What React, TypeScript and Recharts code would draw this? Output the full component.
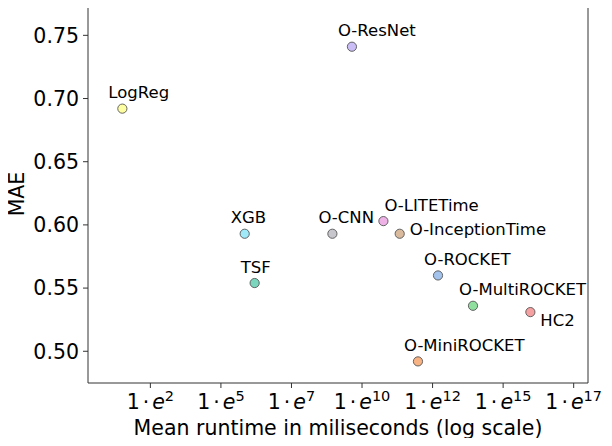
import { ScatterChart, Scatter, XAxis, YAxis, ReferenceLine } from 'recharts';

// runtime position is in axis-tick units (tick i sits at i + 1)
const methods = ['LogReg', 'O-ResNet', 'XGB', 'TSF', 'O-CNN', 'O-LITETime', 'O-InceptionTime', 'O-ROCKET', 'O-MultiROCKET', 'HC2', 'O-MiniROCKET'];
const runtimePos = [0.603, 3.857, 2.337, 2.478, 3.58, 4.303, 4.534, 5.077, 5.573, 6.386, 4.793];
const mae = [0.692, 0.741, 0.593, 0.554, 0.593, 0.603, 0.593, 0.56, 0.536, 0.531, 0.492];

const xTicks = [1, 2, 3, 4, 5, 6, 7];
const xTickExponents = ['2', '5', '7', '10', '12', '15', '17'];
const yTicks = [0.5, 0.55, 0.6, 0.65, 0.7, 0.75];

const colors: Record<string, string> = {
  LogReg: '#fdfda2',
  'O-ResNet': '#cbbdf6',
  XGB: '#a0e9f8',
  TSF: '#7ad7bd',
  'O-CNN': '#c6c6cc',
  'O-LITETime': '#efb2e6',
  'O-InceptionTime': '#d9ba9c',
  'O-ROCKET': '#a3c3ec',
  'O-MultiROCKET': '#8fdf9f',
  HC2: '#f6a1a1',
  'O-MiniROCKET': '#f7b384',
};

// label offset from the marker centre: [dx, baseline dy]
const labelShift: Record<string, [number, number]> = {
  'O-LITETime': [1, -10],
  'O-InceptionTime': [10, 1],
  HC2: [10, 14],
};

const xDomain = [0.116, 7.203];
const yDomain = [0.4749, 0.7748];
const font = 'DejaVu Sans, sans-serif';

const data = methods.map((name, i) => ({ name, x: runtimePos[i], y: mae[i] }));

function Marker(props: any) {
  const { cx, cy, payload } = props;
  const [dx, dy] = labelShift[payload.name] ?? [-14, -10.5];
  return (
    <g>
      <circle cx={cx} cy={cy} r={4.6} fill={colors[payload.name]} stroke="#555" strokeWidth={0.9} />
      <text x={cx + dx} y={cy + dy} fontSize={16.5} fontFamily={font} fill="#000">
        {payload.name}
      </text>
    </g>
  );
}

function XTick(props: any) {
  const { x, y, index } = props;
  return (
    <text x={x} y={y + 19} textAnchor="middle" fontSize={20.5} fontFamily={font} fill="#000">
      <tspan>1</tspan>
      <tspan dx={3}>·</tspan>
      <tspan dx={3} fontStyle="italic">e</tspan>
      <tspan fontSize={14.5} dy={-8.5}>{xTickExponents[index]}</tspan>
    </text>
  );
}

export default function App() {
  return (
    <div style={{ margin: -8 }}>
      <ScatterChart width={612} height={446} margin={{ top: 4, right: 24, bottom: 0, left: 0 }}>
        <XAxis
          type="number"
          dataKey="x"
          domain={xDomain}
          ticks={xTicks}
          allowDataOverflow
          height={63}
          tickSize={5}
          tickMargin={2}
          stroke="#333"
          tick={<XTick />}
          label={{
            content: () => (
              <text x={338} y={435} textAnchor="middle" fontSize={20.5} fontFamily={font} fill="#000">
                Mean runtime in miliseconds (log scale)
              </text>
            ),
          }}
        />
        <YAxis
          type="number"
          dataKey="y"
          domain={yDomain}
          ticks={yTicks}
          allowDataOverflow
          width={88}
          tickSize={5}
          tickMargin={4}
          stroke="#333"
          tickFormatter={(v: number) => v.toFixed(2)}
          tick={{ fontSize: 20.5, fontFamily: font, fill: '#000' }}
          label={{
            content: () => (
              <text x={24} y={194} transform="rotate(-90 24 194)" textAnchor="middle" fontSize={20.5} fontFamily={font} fill="#000">
                MAE
              </text>
            ),
          }}
        />
        {/* top and right edges of the box frame */}
        <ReferenceLine x={xDomain[1]} stroke="#333" strokeWidth={1} ifOverflow="visible" />
        <ReferenceLine y={yDomain[1]} stroke="#333" strokeWidth={1} ifOverflow="visible" />
        <Scatter data={data} shape={<Marker />} isAnimationActive={false} />
      </ScatterChart>
    </div>
  );
}
